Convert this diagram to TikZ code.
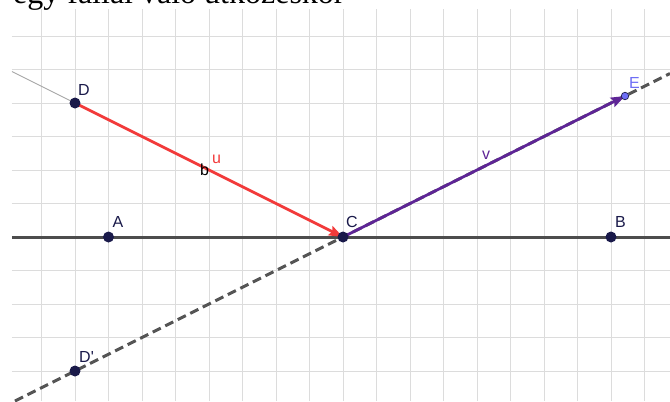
\documentclass[tikz,border=0pt]{standalone}
\usepackage{fontspec}
\setmainfont{Liberation Serif}
\newfontfamily\lblfont{Liberation Sans}
\usetikzlibrary{arrows.meta,calc}
\definecolor{gridc}{HTML}{DCDCDC}
\definecolor{axisc}{HTML}{4D4D4D}
\definecolor{dashc}{HTML}{555555}
\definecolor{vecred}{HTML}{F23A3A}
\definecolor{vecpurp}{HTML}{5E2596}
\definecolor{ptc}{HTML}{1A1A4A}
\definecolor{ptlight}{HTML}{6E6EF5}
\begin{document}
\begin{tikzpicture}[x=33.5pt,y=33.5pt,
  gridline/.style={draw=gridc,line width=0.9pt},
  thinline/.style={draw=gray!70,line width=0.9pt},
  axisline/.style={draw=axisc,line width=3pt},
  dashline/.style={draw=dashc,line width=3pt,dash pattern=on 9pt off 5pt},
  vecline/.style={line width=2.8pt,-{Stealth[length=14pt,width=10pt,inset=2pt]}},
  ptdot/.style={circle,fill=ptc,inner sep=0pt,minimum size=11pt},
  ptsmall/.style={circle,fill=ptlight,draw=ptc,line width=0.7pt,inner sep=0pt,minimum size=7.5pt},
  ptlbl/.style={font=\lblfont\fontsize{16}{16}\selectfont,text=ptc,anchor=base west,inner sep=0pt},
  veclbl/.style={font=\lblfont\fontsize{16}{16}\selectfont,anchor=base west,inner sep=0pt}]
\useasboundingbox (-10.239,-4.896) rectangle (9.761,7.075);
% grid
\foreach \i in {-9,...,9} \draw[gridline] (\i,-4.896) -- (\i,6.806);
\foreach \j in {-4,...,6} \draw[gridline] (-9.881,\j) -- (9.761,\j);
% points
\coordinate (C) at (0,0);
\coordinate (A) at (-7,0);
\coordinate (B) at (8,0);
\coordinate (D) at (-8,4);
\coordinate (Dp) at (-8,-4);
\coordinate (E) at (8.418,4.209);
\coordinate (Lw) at (-9.881,0);
\coordinate (Re) at (9.761,0);
\coordinate (Tl) at (-9.881,4.9405);
\coordinate (Bl) at (-9.792,-4.896);
\coordinate (Tr) at (9.761,4.8805);
% lines
\draw[thinline] (Tl) -- (D);
\draw[axisline] (Lw) -- (Re);
\draw[dashline] (Bl) -- (Tr);
\draw[vecline,vecred] (D) -- (C);
\draw[vecline,vecpurp] (C) -- (E);
% point marks
\node[ptdot] (nA) at (A) {};
\node[ptdot] (nB) at (B) {};
\node[ptdot] (nC) at (C) {};
\node[ptdot] (nD) at (D) {};
\node[ptdot] (nDp) at (Dp) {};
\node[ptsmall] (nE) at (E) {};
% labels
\node[ptlbl] (lA) at ([shift={(4pt,10pt)}]A) {A};
\node[ptlbl] (lB) at ([shift={(4pt,10pt)}]B) {B};
\node[ptlbl] (lC) at ([shift={(3pt,10pt)}]C) {C};
\node[ptlbl] (lD) at ([shift={(3pt,8pt)}]D) {D};
\node[ptlbl] (lDp) at ([shift={(4pt,9pt)}]Dp) {D'};
\node[ptlbl,text=ptlight] (lE) at ([shift={(4pt,8pt)}]E) {E};
\node[veclbl,text=vecred] (lu) at (-3.910,2.209) {u};
\node[veclbl,text=black] (lb) at (-4.269,1.851) {b};
\node[veclbl,text=vecpurp] (lv) at (4.149,2.299) {v};
% title (cut off at the top edge, as in the reference)
\node[anchor=base west,inner sep=0pt,font=\fontsize{32}{32}\selectfont] (title) at (-9.851,6.970) {egy fallal való ütközéskor};
\end{tikzpicture}
\end{document}
